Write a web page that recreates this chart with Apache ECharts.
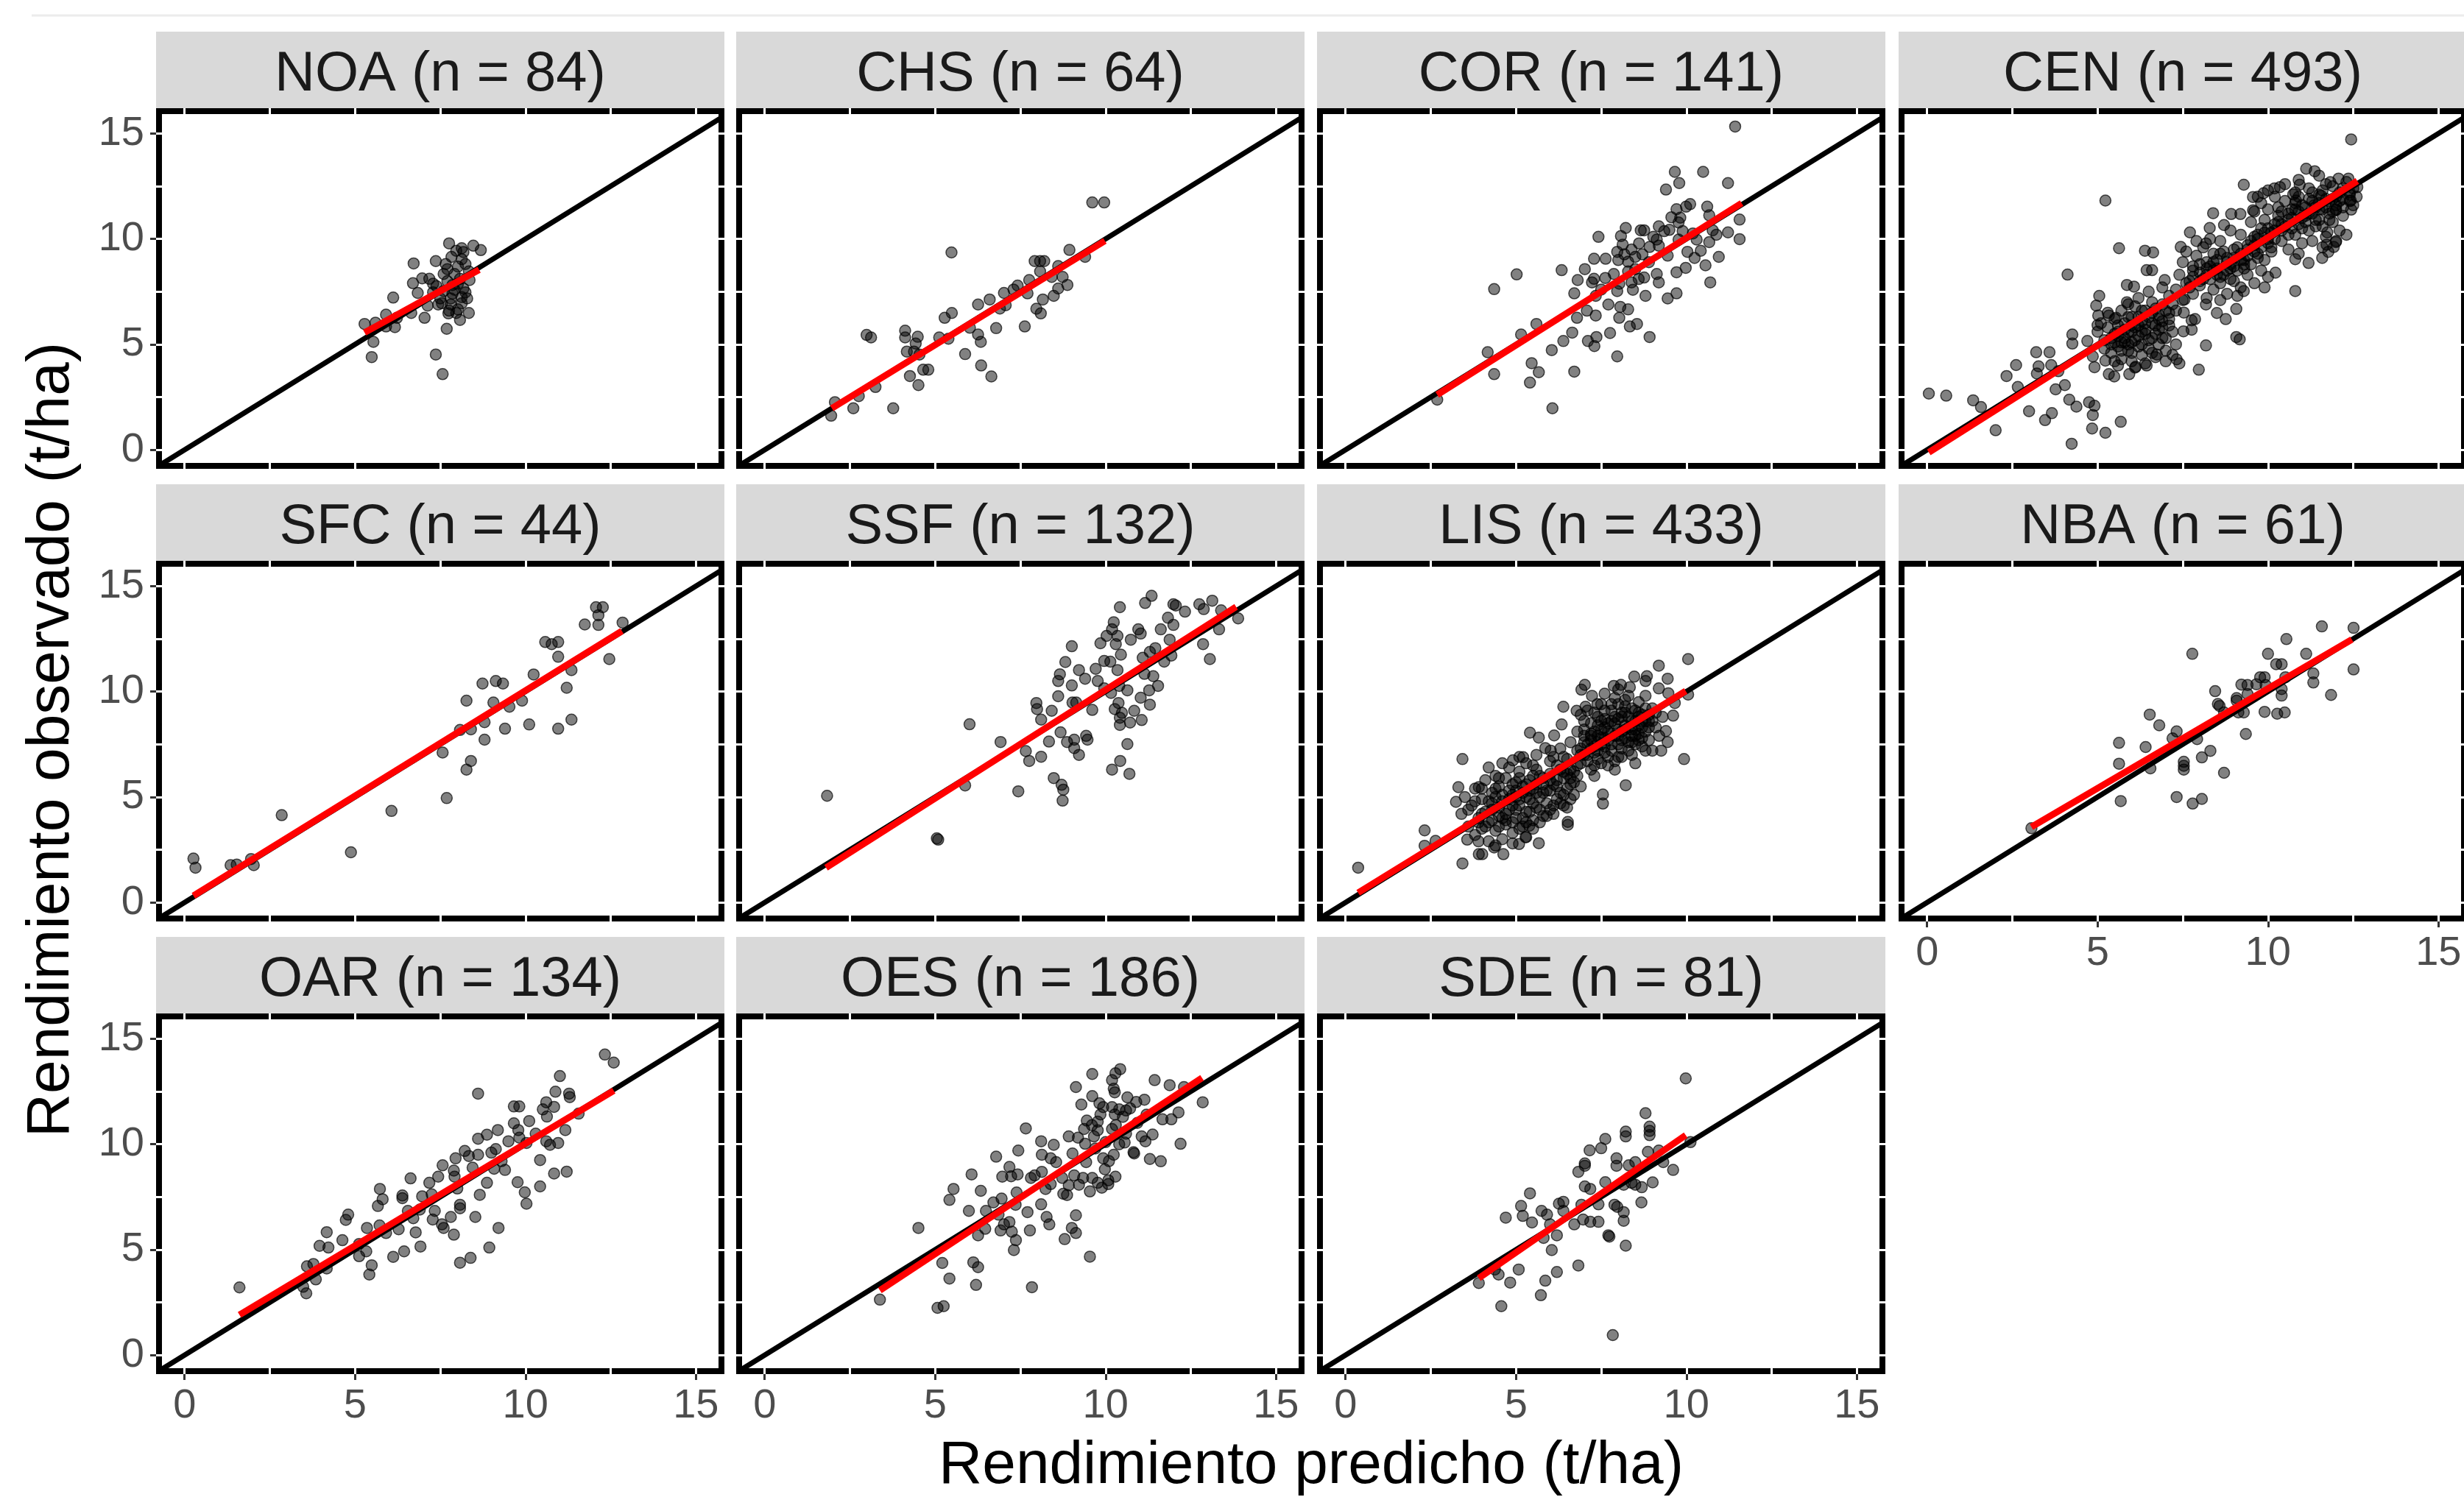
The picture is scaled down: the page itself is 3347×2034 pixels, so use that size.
<!DOCTYPE html>
<html>
<head>
<meta charset="utf-8">
<script src="https://cdn.jsdelivr.net/npm/echarts@6/dist/echarts.min.js"></script>
<style>
html, body { margin: 0; padding: 0; background: #fff; }
#chart { width: 3347px; height: 2034px; }
</style>
</head>
<body>
<div id="chart"></div>
<script>
// regiones y tamaño de muestra
const regions = ['NOA', 'CHS', 'COR', 'CEN', 'SFC', 'SSF', 'LIS', 'NBA', 'OAR', 'OES', 'SDE']
const sampleSizes = [84, 64, 141, 493, 44, 132, 433, 61, 134, 186, 81]

// recta de ajuste (inicio y fin) por region
const fitStart = [[5.28, 5.56], [1.97, 1.97], [2.69, 2.61], [0.05, -0.12], [0.26, 0.32], [1.8, 1.65], [0.37, 0.46], [3.06, 3.58], [1.61, 1.91], [3.38, 3.07], [3.91, 3.65]]
const fitEnd = [[8.64, 8.54], [9.98, 9.91], [11.62, 11.7], [12.62, 12.75], [12.83, 12.87], [13.83, 14.02], [9.98, 10.03], [12.46, 12.47], [12.59, 12.54], [12.83, 13.15], [9.98, 10.43]]

// linea 1:1
const identityLine = [[-1, -1], [17, 17]]

const axisTicks = [0, 5, 10, 15]
const gridTicks = [0, 2.5, 5, 7.5, 10, 12.5, 15]

// predicho, observado
const noaPoints = [[7.76,9.79],[8.13,9.56],[8.47,9.68],[8.69,9.47],[7.83,9.15],[8.13,9.04],[6.72,8.84],[7.37,8.95],[7.71,8.57],[8.02,8.69],[8.24,8.81],[7.6,8.34],[7.92,8.34],[8.34,8.46],[6.97,8.13],[6.7,7.9],[7.29,7.88],[7.71,8.0],[8.02,7.88],[8.36,8.05],[6.84,7.44],[7.29,7.47],[7.6,7.53],[7.92,7.59],[8.24,7.47],[6.12,7.22],[7.5,7.18],[7.81,7.18],[8.13,7.24],[8.29,7.18],[7.13,6.84],[7.44,6.89],[7.81,6.89],[8.13,6.95],[7.76,6.6],[8.02,6.66],[8.34,6.49],[7.74,6.47],[5.91,6.41],[7.04,6.26],[8.08,6.16],[6.65,6.49],[6.23,6.26],[5.28,5.97],[5.6,6.03],[6.17,5.82],[5.91,5.85],[7.69,5.74],[5.54,5.12],[5.49,4.4],[7.37,4.52],[7.57,3.59],[7.39,7.76],[7.86,7.82],[8.18,9.38],[7.97,9.44],[7.66,8.81],[8.08,8.11],[7.86,7.41],[8.18,7.65],[7.55,6.95],[7.97,6.49],[7.18,8.11]]

const chsPoints = [[9.61,11.73],[9.96,11.73],[5.48,9.36],[8.94,9.48],[9.4,9.15],[7.92,8.95],[8.08,8.95],[8.2,8.95],[8.61,8.71],[8.08,8.46],[8.42,8.2],[8.74,8.2],[7.76,8.05],[8.88,7.82],[8.61,7.65],[7.42,7.79],[7.02,7.44],[7.71,7.42],[8.48,7.3],[6.6,7.13],[6.26,6.89],[7.07,6.86],[8.16,7.13],[7.97,6.69],[8.1,6.47],[5.49,6.49],[5.28,6.26],[6.79,5.77],[7.63,5.85],[6.02,5.79],[6.26,5.47],[6.34,5.12],[5.39,5.27],[4.12,5.65],[4.12,5.33],[2.99,5.45],[3.12,5.33],[4.49,5.36],[4.43,5.04],[4.17,4.66],[4.38,4.66],[4.54,4.52],[5.88,4.54],[4.65,3.8],[4.8,3.8],[6.35,4.0],[4.26,3.5],[6.65,3.48],[4.51,3.07],[3.25,2.98],[2.76,2.55],[2.06,2.26],[2.6,1.97],[3.77,1.97],[1.95,1.62],[5.12,5.33],[7.3,7.6],[6.9,6.7]]

const corPoints = [[11.43,15.33],[9.66,13.18],[10.49,13.18],[9.79,12.65],[11.22,12.65],[9.4,12.34],[10.11,11.65],[10.61,11.53],[9.71,11.41],[9.99,11.53],[9.56,11.03],[9.82,11.01],[10.67,11.12],[11.56,10.92],[9.77,10.78],[8.22,10.52],[8.66,10.41],[8.76,10.41],[9.19,10.6],[9.35,10.37],[9.5,10.43],[10.77,10.41],[10.88,10.2],[11.22,10.31],[7.42,10.1],[8.08,10.14],[9.03,10.1],[9.89,10.37],[10.3,9.97],[10.67,9.85],[11.56,9.99],[8.13,9.73],[8.61,9.79],[8.92,9.62],[9.19,9.68],[7.97,9.39],[8.18,9.27],[8.39,9.5],[8.71,9.27],[10.03,9.39],[10.42,9.44],[10.95,9.15],[9.45,9.21],[7.29,9.06],[7.63,9.06],[8.29,8.92],[10.24,9.1],[10.56,8.75],[6.34,8.52],[7.02,8.57],[9.98,8.63],[9.71,8.42],[5.02,8.32],[9.13,8.34],[9.19,7.94],[6.81,8.05],[7.23,7.94],[7.62,8.15],[8.03,7.88],[8.39,7.94],[8.76,8.17],[10.7,7.94],[4.36,7.62],[6.71,7.42],[7.34,7.3],[7.97,7.53],[8.43,7.59],[8.8,7.3],[9.45,7.18],[9.71,7.42],[7.71,6.89],[8.06,6.78],[8.29,6.66],[7.08,6.6],[7.34,6.37],[6.79,6.26],[8.03,6.26],[5.6,5.97],[8.34,5.85],[8.55,5.97],[5.15,5.47],[6.65,5.56],[7.36,5.35],[7.76,5.54],[8.92,5.35],[6.39,5.16],[7.11,5.16],[7.3,4.92],[6.05,4.73],[4.17,4.63],[7.97,4.43],[5.46,4.11],[5.67,3.68],[6.71,3.71],[4.36,3.59],[5.41,3.19],[6.07,1.97],[2.69,2.38],[8.5,9.15],[8.29,8.46],[7.87,8.34],[8.5,8.57],[7.29,8.11],[9.13,9.97],[9.77,9.97],[10.19,10.26],[8.9,8.9],[8.0,9.0],[8.6,8.1],[7.5,7.6]]

const cenPoints = [[12.44,14.72],[11.12,13.33],[11.37,13.21],[9.29,12.57],[5.23,11.82],[10.19,12.4],[10.35,12.46],[10.93,12.57],[11.83,12.69],[12.07,12.86],[12.36,12.86],[12.62,12.46],[10.74,12.11],[9.56,11.99],[9.87,12.17],[11.56,12.05],[12.43,11.82],[11.99,11.36],[12.44,11.39],[8.39,11.22],[8.92,11.18],[9.19,11.18],[9.56,11.36],[10.82,11.82],[11.35,11.59],[8.29,10.52],[7.71,10.31],[8.71,10.66],[11.74,10.31],[11.99,9.85],[11.93,9.62],[11.72,9.73],[11.77,9.39],[11.59,9.1],[11.19,8.86],[10.8,9.04],[5.63,9.56],[6.39,9.44],[6.63,9.36],[8.18,9.79],[7.44,9.62],[6.44,8.52],[6.6,8.52],[4.12,8.31],[6.97,8.05],[5.86,7.82],[6.07,7.74],[5.05,7.3],[10.22,8.4],[9.29,7.53],[10.8,7.53],[4.96,6.84],[5.86,7.0],[7.55,7.13],[8.18,6.89],[9.07,6.68],[7.53,6.51],[8.5,6.49],[8.76,6.2],[5.02,6.37],[5.33,6.37],[5.54,6.26],[7.76,6.14],[7.86,6.2],[5.0,5.91],[7.52,5.62],[7.76,5.7],[9.07,5.35],[9.17,5.24],[4.26,5.47],[4.26,5.04],[4.7,5.16],[8.18,4.95],[3.2,4.63],[3.59,4.63],[4.86,4.43],[5.23,4.23],[2.61,4.02],[3.27,3.96],[3.64,4.02],[4.91,3.92],[5.6,4.0],[6.12,3.94],[6.44,4.0],[7.32,4.29],[6.74,4.52],[7.97,3.8],[2.33,3.5],[3.22,3.62],[3.85,3.73],[5.33,3.59],[5.49,3.48],[5.93,3.59],[2.66,2.98],[3.77,2.87],[4.04,3.07],[0.05,2.67],[0.56,2.57],[1.35,2.35],[1.58,2.03],[4.17,2.38],[4.38,2.05],[4.75,2.26],[4.91,2.09],[2.99,1.83],[3.66,1.74],[3.46,1.41],[4.86,1.65],[5.68,1.33],[2.01,0.93],[4.84,1.01],[5.23,0.81],[4.24,0.29],
[5.0,5.6],[5.1,6.0],[5.2,5.2],[5.3,5.8],[5.3,6.5],[5.4,5.0],[5.4,4.6],[5.5,5.5],[5.5,6.2],[5.6,4.9],[5.6,5.9],[5.7,6.6],[5.7,4.3],[5.8,5.3],[5.8,6.0],[5.9,4.7],[5.9,5.6],[6.0,6.3],[6.0,5.1],[6.0,4.2],[6.1,5.8],[6.1,6.8],[6.2,4.9],[6.2,5.4],[6.3,6.1],[6.3,4.5],[6.4,5.7],[6.4,6.6],[6.5,5.2],[6.5,4.8],[6.6,6.0],[6.6,7.0],[6.7,5.5],[6.7,4.4],[6.8,6.4],[6.8,5.0],[6.9,5.8],[6.9,6.9],[7.0,5.3],[7.0,4.7],[7.1,6.2],[7.1,7.3],[7.2,5.6],[7.2,4.5],[7.3,6.6],[7.3,5.0],[6.2,7.2],[5.9,6.9],[6.5,7.5],[6.9,7.7],[7.0,4.2],[7.4,4.1],[5.5,4.2],[6.1,3.9],[6.4,4.1],
[5.6,5.4],[5.8,5.7],[6.0,5.6],[6.2,5.9],[6.4,5.5],[6.1,5.2],[5.9,5.0],[6.3,5.0],[6.6,5.3],[6.8,5.7],[6.5,6.3],[6.3,6.6],[5.7,5.1],[6.9,6.1],[7.1,5.9],[6.7,6.7],
[5.2,4.8],[5.4,5.3],[5.6,5.6],[5.8,5.1],[6.0,5.9],[6.2,6.3],[6.4,6.0],[6.6,6.5],[6.8,6.2],[7.0,6.6],[7.2,6.9],[5.9,6.3],[5.5,5.1],[6.3,5.6],[6.7,5.9],[7.1,6.5],[6.0,4.6],[6.6,4.6],[5.7,4.7],[6.9,5.3],
[7.3,7.6],[7.4,8.3],[7.5,8.9],[7.5,7.1],[7.6,9.4],[7.7,8.0],[7.8,7.4],[7.8,8.7],[7.9,9.2],[8.0,7.8],[8.0,8.4],[8.1,9.6],[8.2,7.2],[8.2,8.9],[8.3,8.1],[8.4,9.3],[8.4,7.6],[8.5,8.6],[8.6,9.9],[8.6,7.9],[8.7,8.3],[8.8,9.1],[8.8,7.4],[8.9,8.8],[9.0,9.5],[9.0,8.0],[9.1,8.5],[9.2,10.2],[9.2,7.7],[9.3,9.0],[9.4,8.3],[9.4,9.7],[9.5,8.8],[9.6,7.9],[9.6,10.1],[9.7,9.3],[9.8,8.5],[9.8,10.5],[9.9,9.0],[10.0,9.8],[10.0,8.2],[10.1,10.3],[8.3,10.0],[8.9,10.4],[7.9,9.9],[8.6,7.1],[9.1,7.3],[9.9,7.7],
[8.0,8.0],[8.2,8.3],[8.4,8.5],[8.6,8.2],[8.8,8.5],[9.0,8.7],[9.2,9.0],[9.4,9.2],[9.6,9.4],[8.5,9.0],[8.7,9.4],[9.1,9.6],[9.3,8.6],[8.9,8.1],[8.3,8.7],[7.8,8.2],[9.5,9.9],[9.7,10.2],
[7.6,7.9],[7.8,8.5],[8.0,8.8],[8.2,8.6],[8.4,8.9],[8.6,9.3],[8.8,8.9],[9.0,9.1],[9.2,9.3],[9.4,9.5],[9.6,9.7],[9.8,9.6],[10.0,10.0],[8.1,8.1],[8.5,8.3],[8.9,8.6],[9.3,8.8],[9.7,9.1],[10.1,9.4],[7.7,7.7],
[9.5,10.8],[9.6,11.3],[9.7,10.0],[9.8,11.7],[9.9,10.9],[10.0,11.4],[10.1,9.6],[10.2,10.7],[10.2,12.0],[10.3,11.1],[10.4,9.9],[10.4,10.4],[10.5,11.8],[10.6,10.9],[10.6,9.5],[10.7,11.4],[10.8,10.2],[10.8,12.2],[10.9,10.7],[11.0,11.6],[11.0,9.8],[11.1,11.1],[11.2,10.4],[11.2,12.4],[11.3,11.8],[11.3,9.9],[11.4,10.9],[11.5,11.4],[11.5,12.1],[11.6,10.6],[11.7,11.9],[11.7,10.1],[11.8,11.2],[11.9,12.5],[11.9,10.8],[12.0,11.6],[12.1,12.2],[12.1,10.4],[12.2,11.1],[12.3,12.7],[12.4,11.8],[12.5,12.4],[12.6,12.0],[10.5,12.6],[10.9,12.8],[11.5,13.0],[10.0,12.3],[9.7,12.0],[12.3,10.2],[11.6,9.6],[10.9,9.3],[12.0,9.9],
[10.0,10.5],[10.3,10.8],[10.5,10.6],[10.7,11.0],[10.9,11.3],[11.1,11.5],[11.3,11.2],[11.5,11.7],[11.7,11.5],[11.9,11.9],[12.1,11.8],[10.4,11.3],[10.8,11.7],[11.2,11.9],[11.6,12.3],[12.0,12.0],[10.6,10.2],[11.0,10.5],[11.4,10.6],[11.8,10.9],[12.2,11.5],[10.2,10.0],[9.9,10.3],[12.4,12.2],
[10.2,10.4],[10.4,10.7],[10.6,11.2],[10.8,11.4],[11.0,11.0],[11.2,11.2],[11.4,11.5],[11.6,11.4],[11.8,11.8],[12.0,11.4],[12.2,11.9],[12.4,12.1],[10.7,10.5],[11.1,10.8],[11.5,10.9],[11.9,11.3],[10.3,11.5],[10.9,12.0],[11.3,12.2],[11.7,12.6],[12.2,12.4],[12.5,11.6]]

const sfcPoints = [[12.07,14.0],[12.27,14.0],[12.14,13.62],[11.74,13.18],[12.14,13.16],[12.85,13.27],[10.58,12.35],[10.77,12.25],[10.96,12.35],[10.96,11.65],[12.46,11.54],[11.35,11.02],[10.24,10.81],[8.74,10.38],[9.13,10.5],[9.34,10.38],[11.21,10.18],[8.27,9.57],[9.06,9.48],[9.53,9.28],[9.9,9.57],[11.35,8.67],[8.8,8.55],[10.11,8.44],[9.4,8.24],[10.96,8.24],[8.4,8.21],[8.08,8.18],[8.8,7.72],[7.57,7.11],[8.4,6.71],[8.27,6.3],[7.69,4.95],[6.07,4.34],[2.85,4.14],[4.88,2.38],[0.26,2.08],[0.32,1.65],[1.35,1.77],[1.53,1.8],[1.95,2.06],[2.03,1.77]]

const ssfPoints = [[11.35,14.54],[11.16,14.2],[10.42,14.0],[11.99,14.14],[12.06,14.08],[12.33,13.79],[12.75,14.14],[12.88,13.91],[13.13,14.31],[13.39,13.85],[13.89,13.47],[10.24,13.29],[11.83,13.5],[11.99,13.16],[10.19,12.95],[10.96,12.95],[11.62,12.95],[11.03,12.75],[13.33,12.95],[10.03,12.64],[10.35,12.64],[10.74,12.46],[11.88,12.46],[12.86,12.25],[9.01,12.15],[9.85,12.29],[10.3,12.25],[11.46,12.06],[10.45,11.75],[11.3,11.88],[13.06,11.54],[8.82,11.4],[9.96,11.45],[10.14,11.42],[11.09,11.6],[11.72,11.42],[11.93,11.71],[9.22,11.02],[9.71,11.08],[10.35,11.02],[11.14,10.84],[11.4,10.73],[8.66,10.82],[8.61,10.5],[9.4,10.61],[9.77,10.5],[9.01,10.29],[11.54,10.27],[11.28,10.06],[10.4,10.27],[10.64,10.06],[9.96,10.15],[10.16,9.94],[8.61,9.78],[11.03,9.71],[11.3,9.38],[7.97,9.46],[7.99,9.17],[9.03,9.48],[9.14,9.48],[9.61,9.13],[10.38,9.46],[10.27,9.17],[8.42,9.09],[10.48,8.99],[10.84,9.09],[8.11,8.67],[10.42,8.76],[10.72,8.53],[11.06,8.65],[10.42,8.42],[6.01,8.45],[8.68,8.07],[8.34,7.63],[8.87,7.61],[9.08,7.72],[9.43,7.9],[9.47,7.72],[6.92,7.61],[10.64,7.51],[9.08,7.32],[7.66,7.18],[9.22,7.0],[8.11,6.91],[7.76,6.71],[10.43,6.71],[10.19,6.3],[10.7,6.1],[8.48,5.9],[8.71,5.58],[8.76,5.35],[5.88,5.55],[7.44,5.27],[8.74,4.83],[1.83,5.06],[5.05,3.04],[5.09,2.98]]

const lisPoints = [[10.05,11.54],[9.19,11.23],[8.47,10.71],[8.84,10.73],[8.8,10.5],[9.45,10.61],[7.02,10.32],[6.92,10.09],[7.87,10.27],[8.08,10.32],[8.34,10.21],[9.19,10.15],[7.23,9.8],[9.47,9.92],[10.05,9.86],[9.66,9.46],[6.39,9.28],[7.04,9.28],[6.78,9.09],[7.39,9.4],[9.61,8.86],[6.34,8.44],[5.41,8.05],[5.67,7.82],[6.12,7.92],[9.4,8.13],[9.45,7.61],[5.86,7.32],[6.02,7.2],[9.26,7.2],[9.93,6.8],[3.43,6.8],[5.21,6.89],[4.91,6.74],[8.22,5.56],[7.55,5.12],[7.55,4.69],[3.31,5.47],[3.91,5.47],[3.24,4.77],[6.52,3.82],[6.52,3.68],[2.32,3.42],[5.67,2.81],[5.09,2.77],[4.36,2.61],[4.63,2.29],[3.91,2.29],[4.01,2.29],[3.43,1.85],[0.37,1.65],[2.64,2.92],[2.32,2.69],[5.39,3.64],[5.28,3.1],[3.57,2.98],
[3.4,4.2],[3.5,5.0],[3.6,3.6],[3.7,4.6],[3.8,5.4],[3.8,3.2],[3.9,4.0],[4.0,4.9],[4.0,3.5],[4.1,5.8],[4.1,4.3],[4.2,2.9],[4.2,3.8],[4.3,5.2],[4.3,4.7],[4.4,3.4],[4.4,6.0],[4.5,4.1],[4.5,5.5],[4.6,3.0],[4.6,4.8],[4.7,5.9],[4.7,3.7],[4.8,4.4],[4.8,6.4],[4.9,5.1],[4.9,3.3],[5.0,4.0],[5.0,5.7],[5.1,4.6],[5.1,6.2],[5.2,3.6],[5.2,5.2],[5.3,4.3],[5.3,6.6],[5.4,4.9],[5.4,5.8],[5.5,3.9],[5.5,5.4],[5.6,4.5],[5.6,6.3],[5.7,5.0],[5.8,4.1],[5.8,5.9],[5.9,5.3],[5.9,4.7],[6.0,6.1],[6.0,4.4],[6.1,5.6],[6.2,4.9],[6.2,6.5],[6.3,5.2],[6.4,4.6],[6.4,5.9],[6.5,5.4],[6.6,4.9],[6.6,6.3],[6.7,5.7],[4.4,2.7],[4.9,2.8],[5.3,3.1],[3.9,2.9],[4.6,6.6],[5.1,6.9],[5.6,7.0],[4.2,6.4],
[4.5,4.5],[4.7,4.2],[4.9,4.6],[5.1,4.9],[5.3,5.0],[5.5,4.7],[5.7,4.4],[5.2,4.0],[4.8,5.3],[5.0,5.0],[5.6,5.2],[5.8,5.6],[6.0,5.3],[6.2,5.8],[6.4,5.1],[6.6,5.6],[6.8,6.0],[6.1,4.6],[5.4,4.3],[4.6,4.0],[4.3,4.4],[4.0,4.2],[4.4,5.0],[4.9,5.6],[5.3,5.6],[5.7,6.0],[6.3,6.3],[6.5,6.1],[5.0,4.4],[5.5,6.0],
[3.9,3.8],[4.1,3.6],[4.3,3.9],[4.5,3.6],[4.7,3.9],[4.9,3.8],[5.1,3.5],[5.3,3.8],[5.5,3.5],[5.7,3.8],[5.9,4.1],[6.1,4.2],[6.3,4.7],[6.5,4.5],[6.7,5.1],[6.9,5.5],[4.2,4.8],[4.4,5.4],[4.6,5.1],[4.8,4.9],[5.0,5.3],[5.2,5.5],[5.4,5.3],[5.6,5.6],[5.8,5.2],[6.0,5.8],[6.2,5.5],[6.4,6.2],[6.6,5.9],[6.8,6.5],[5.1,5.9],[5.5,6.5],[4.5,5.9],[3.6,4.4],[3.8,4.8],[4.0,5.4],[6.0,6.7],[6.4,6.9],
[6.5,6.8],[6.6,7.6],[6.7,6.2],[6.8,7.2],[6.8,8.1],[6.9,6.6],[7.0,7.6],[7.0,8.6],[7.1,7.0],[7.2,8.0],[7.2,6.3],[7.3,7.4],[7.3,9.0],[7.4,8.4],[7.4,6.8],[7.5,7.8],[7.5,9.4],[7.6,7.1],[7.6,8.7],[7.7,8.1],[7.7,6.5],[7.8,9.1],[7.8,7.5],[7.9,8.5],[7.9,9.7],[8.0,7.9],[8.0,6.9],[8.1,8.8],[8.1,7.3],[8.2,9.3],[8.2,8.2],[8.3,7.6],[8.3,9.8],[8.4,8.6],[8.4,7.0],[8.5,9.1],[8.5,7.9],[8.6,8.4],[8.6,9.5],[8.7,7.4],[8.7,8.9],[8.8,8.1],[8.8,9.8],[8.9,7.7],[8.9,8.6],[9.0,9.2],[9.0,7.2],[9.1,8.3],[7.1,9.1],[7.6,9.9],[8.0,10.1],[6.9,8.9],[7.3,6.0],[7.9,6.3],[8.5,6.6],[9.2,7.9],[9.3,8.8],[6.3,7.3],[6.1,6.9],
[7.0,7.0],[7.2,7.3],[7.4,7.6],[7.6,7.8],[7.8,8.0],[8.0,8.2],[8.2,8.4],[8.4,8.2],[8.6,8.0],[8.2,7.8],[8.0,7.5],[7.8,7.2],[7.6,7.4],[7.4,7.2],[7.2,7.7],[7.5,8.2],[7.7,8.5],[7.9,8.8],[8.1,9.0],[8.3,8.8],[8.5,8.6],[8.7,8.3],[8.4,7.6],[8.8,8.6],[7.0,7.9],[6.9,7.3],[7.3,8.1],[8.1,7.7],[8.6,9.0],[7.5,8.6],
[6.9,7.0],[7.1,7.5],[7.3,7.1],[7.5,7.5],[7.7,7.7],[7.9,7.9],[8.1,8.1],[8.3,8.3],[8.5,8.2],[8.7,8.6],[8.9,8.9],[7.0,8.2],[7.2,8.5],[7.4,8.8],[7.6,9.1],[7.8,9.4],[8.0,9.4],[8.2,9.6],[8.4,9.2],[8.6,8.8],[8.8,9.2],[9.0,8.6],[9.1,9.0],[8.9,8.3],[8.7,7.8],[8.5,7.5],[8.3,7.2],[8.1,6.9],[7.9,6.7],[7.7,6.9],[7.5,6.6],[7.3,6.5],[7.1,6.7],[7.6,8.3],[7.8,8.6],[8.0,8.7],[8.2,9.0],[7.4,7.9],[7.2,7.9],[8.4,7.9],[8.6,7.7],[8.8,7.2]]

const nbaPoints = [[11.58,13.09],[12.51,13.02],[10.54,12.49],[7.78,11.79],[10.0,11.79],[11.12,11.79],[10.24,11.3],[10.4,11.3],[12.51,11.05],[11.33,10.86],[9.77,10.68],[9.9,10.68],[10.51,10.68],[11.33,10.43],[9.22,10.33],[9.4,10.31],[9.66,10.35],[9.93,10.31],[10.4,10.12],[10.4,9.81],[11.85,9.84],[8.45,10.02],[9.08,9.69],[9.08,9.57],[9.4,9.88],[8.53,9.41],[8.58,9.32],[9.13,9.01],[9.29,9.01],[9.9,9.04],[10.27,8.95],[10.49,9.01],[8.71,9.01],[6.53,8.91],[6.81,8.4],[7.32,8.11],[7.2,7.78],[7.92,7.75],[9.35,7.99],[5.63,7.57],[6.41,7.37],[8.31,7.19],[8.06,6.88],[5.63,6.58],[7.53,6.67],[7.53,6.48],[7.53,6.3],[6.55,6.36],[8.71,6.15],[7.32,5.0],[7.79,4.69],[8.06,4.91],[5.68,4.81],[3.06,3.52]]

const oarPoints = [[12.33,14.25],[12.59,13.87],[11.01,13.23],[8.61,12.4],[10.88,12.49],[11.28,12.4],[11.3,12.23],[9.66,11.79],[9.82,11.79],[10.61,11.99],[10.51,11.65],[10.84,11.77],[10.63,11.31],[11.56,11.45],[10.11,11.1],[9.66,10.99],[9.79,10.67],[9.19,10.67],[8.87,10.45],[8.61,10.26],[9.5,10.14],[9.82,10.31],[11.17,10.67],[10.61,10.14],[10.72,9.97],[10.96,10.06],[10.03,10.06],[9.13,9.77],[8.22,9.68],[8.34,9.44],[8.61,9.5],[7.95,9.33],[10.43,9.25],[7.57,9.0],[8.45,8.89],[9.08,8.84],[9.4,8.78],[7.9,8.75],[11.21,8.7],[10.84,8.61],[7.44,8.46],[7.92,8.46],[6.63,8.38],[7.18,8.17],[8.87,8.17],[9.77,8.2],[10.43,8.0],[5.73,7.88],[6.39,7.57],[6.39,7.44],[6.97,7.53],[7.25,7.62],[8.66,7.6],[9.98,7.72],[5.81,7.39],[5.67,7.07],[8.08,7.13],[8.08,6.96],[10.03,7.18],[6.55,6.84],[7.34,6.84],[4.8,6.66],[4.73,6.41],[6.71,6.49],[8.53,6.55],[7.81,6.55],[7.28,6.43],[7.55,6.2],[7.6,6.03],[5.35,6.03],[5.72,6.15],[6.28,5.97],[5.91,5.79],[6.78,5.82],[7.9,5.71],[9.21,6.03],[4.17,5.83],[4.63,5.45],[3.96,5.18],[4.22,5.1],[5.12,5.27],[5.33,4.92],[5.12,4.69],[6.44,4.92],[6.92,5.15],[6.12,4.66],[8.94,5.1],[8.39,4.61],[8.08,4.38],[5.49,4.26],[5.42,3.82],[3.59,4.21],[3.78,4.32],[4.17,4.11],[3.85,3.59],[3.48,3.24],[3.57,2.93],[1.61,3.21],[9.3,9.2],[8.0,7.9],[6.9,6.9],[10.3,10.5],[9.0,9.6]]

const oesPoints = [[10.43,13.56],[9.61,13.33],[10.29,13.36],[10.19,13.04],[11.44,13.04],[11.88,12.8],[9.13,12.71],[10.24,12.63],[10.27,12.46],[12.3,12.71],[9.61,12.28],[10.64,12.22],[11.14,12.11],[12.85,11.99],[9.29,11.88],[9.82,11.94],[9.93,11.76],[10.19,11.76],[10.4,11.65],[10.72,11.7],[9.85,11.41],[10.27,11.41],[10.51,11.3],[12.14,11.51],[11.67,11.18],[11.93,11.18],[9.45,11.12],[9.77,11.07],[10.93,11.01],[7.66,10.75],[9.37,10.72],[9.77,10.66],[10.19,10.72],[11.38,10.46],[8.92,10.37],[9.19,10.31],[9.66,10.37],[11.06,10.37],[11.17,10.14],[8.11,10.14],[8.48,9.97],[9.4,10.02],[10.56,10.08],[12.2,10.02],[7.44,9.7],[8.13,9.5],[9.03,9.56],[10.24,9.5],[10.82,9.62],[10.84,9.56],[6.79,9.41],[8.39,9.33],[11.3,9.3],[11.62,9.19],[9.93,9.33],[8.55,9.15],[9.43,9.15],[7.18,8.92],[9.98,8.81],[6.07,8.57],[6.97,8.46],[7.23,8.48],[7.42,8.57],[7.81,8.4],[7.92,8.52],[8.13,8.69],[9.08,8.52],[9.34,8.4],[9.61,8.4],[9.77,8.17],[10.08,8.29],[10.29,8.46],[8.39,8.11],[8.73,8.4],[8.92,8.05],[9.22,8.08],[9.89,7.94],[10.08,8.11],[5.54,7.88],[6.34,7.79],[8.24,7.88],[8.76,7.65],[8.87,7.59],[9.54,7.76],[7.39,7.71],[5.42,7.36],[6.71,7.24],[6.95,7.42],[7.36,7.13],[8.11,7.15],[5.99,6.84],[6.49,6.84],[7.71,6.78],[6.86,6.66],[9.13,6.63],[8.27,6.55],[8.35,6.2],[7.02,6.2],[7.18,6.31],[4.51,6.03],[6.47,5.99],[6.92,5.91],[7.25,5.85],[7.78,5.91],[9.01,6.03],[9.13,5.79],[6.26,5.68],[7.37,5.45],[8.8,5.5],[7.31,4.98],[9.54,4.67],[5.21,4.37],[6.12,4.4],[6.26,4.17],[5.42,3.63],[6.2,3.33],[7.84,3.22],[3.38,2.63],[5.07,2.24],[5.25,2.32],[10.0,10.1],[10.3,10.9],[10.6,11.6],[9.7,9.8],[10.9,12.0],[10.1,9.2],[9.6,10.9],[10.4,10.0],[11.2,11.4],[10.6,10.5]]

const sdePoints = [[9.98,13.12],[8.8,11.47],[8.92,10.83],[8.92,10.63],[8.92,10.43],[8.22,10.6],[8.22,10.37],[7.62,10.25],[7.5,9.81],[7.16,9.71],[10.12,10.1],[8.87,9.64],[9.19,9.7],[7.02,9.09],[7.02,8.98],[7.95,9.33],[7.95,8.98],[8.31,9.0],[8.5,9.15],[9.32,9.15],[9.61,8.78],[6.83,8.69],[7.62,8.2],[7.02,8.0],[7.18,7.88],[8.16,8.08],[8.39,8.17],[8.5,8.08],[8.69,7.96],[9.01,8.19],[5.41,7.67],[8.68,7.24],[5.15,7.07],[6.26,7.18],[6.39,7.27],[6.92,7.13],[7.42,7.15],[7.89,7.13],[7.97,7.03],[5.75,6.84],[5.91,6.66],[6.39,6.84],[8.16,6.78],[8.16,6.37],[4.7,6.52],[5.2,6.6],[5.47,6.29],[6.71,6.2],[6.97,6.43],[7.18,6.32],[7.42,6.32],[6.0,6.2],[7.71,5.68],[7.74,5.62],[5.81,5.56],[6.2,5.68],[8.22,5.19],[6.05,4.98],[4.38,4.06],[4.49,3.82],[5.08,4.06],[6.83,4.25],[6.2,3.94],[5.86,3.53],[4.83,3.44],[3.91,3.42],[5.73,2.84],[4.57,2.32],[7.84,0.95]]

const panelPoints = [noaPoints, chsPoints, corPoints, cenPoints, sfcPoints, ssfPoints, lisPoints, nbaPoints, oarPoints, oesPoints, sdePoints]

// disposicion de paneles
const colLeft = [216, 1004, 1793, 2583]
const rowTop = [151, 766, 1381]
const panelW = 764
const panelH = 482
const stripH = 104
const xRange = [-0.75, 15.75]
const yRange = [-0.76, 16.06]
const fontFamily = '"Liberation Sans", Arial, sans-serif'

const chart = echarts.init(document.getElementById('chart'))

const grids = []
const xAxes = []
const yAxes = []
const series = []
const graphics = []

// eje con borde negro y muescas blancas
const sideAxes = (gi, position, range, showLabels) => {
  const main = {
    gridIndex: gi,
    type: 'value',
    position: position,
    min: range[0],
    max: range[1],
    axisLine: { show: true, onZero: false, lineStyle: { color: '#000', width: 8, cap: 'square' } },
    axisTick: {
      show: showLabels,
      inside: false,
      length: 12,
      customValues: axisTicks,
      lineStyle: { color: '#333', width: 3 }
    },
    axisLabel: {
      show: showLabels,
      customValues: axisTicks,
      margin: 20,
      fontSize: 56,
      color: '#4d4d4d',
      fontFamily: fontFamily
    },
    splitLine: { show: false },
    z: 2
  }
  const notch = {
    gridIndex: gi,
    type: 'value',
    position: position,
    offset: -4,
    min: range[0],
    max: range[1],
    axisLine: { show: false, onZero: false },
    axisTick: {
      show: true,
      inside: false,
      length: 8,
      customValues: gridTicks,
      lineStyle: { color: '#fff', width: 3 }
    },
    axisLabel: { show: false },
    splitLine: { show: false },
    z: 3
  }
  return [main, notch]
}

regions.forEach((name, i) => {
  const row = Math.floor(i / 4)
  const col = i % 4
  const left = colLeft[col]
  const top = rowTop[row]

  grids.push({ left: left, top: top, width: panelW, height: panelH })

  const showX = i >= 7
  const showY = col === 0
  xAxes.push(...sideAxes(i, 'bottom', xRange, showX))
  xAxes.push(...sideAxes(i, 'top', xRange, false))
  yAxes.push(...sideAxes(i, 'left', yRange, showY))
  yAxes.push(...sideAxes(i, 'right', yRange, false))

  const xi = i * 4
  const yi = i * 4

  series.push({
    type: 'scatter',
    xAxisIndex: xi,
    yAxisIndex: yi,
    data: panelPoints[i],
    symbolSize: 15,
    itemStyle: { color: 'rgba(0,0,0,0.62)', borderColor: 'rgba(0,0,0,0.85)', borderWidth: 1.5 },
    silent: true,
    z: 2
  })
  series.push({
    type: 'line',
    xAxisIndex: xi,
    yAxisIndex: yi,
    data: identityLine,
    symbol: 'none',
    lineStyle: { color: '#000', width: 7 },
    silent: true,
    z: 3
  })
  series.push({
    type: 'line',
    xAxisIndex: xi,
    yAxisIndex: yi,
    data: [fitStart[i], fitEnd[i]],
    symbol: 'none',
    lineStyle: { color: '#ff0000', width: 9 },
    silent: true,
    z: 4
  })

  // franja del titulo del panel
  graphics.push({
    type: 'rect',
    shape: { x: left - 4, y: top - 4 - stripH, width: panelW + 8, height: stripH },
    style: { fill: '#d9d9d9' },
    silent: true
  })
  graphics.push({
    type: 'text',
    x: left + panelW / 2,
    y: top - 4 - stripH / 2 + 7,
    style: {
      text: name + ' (n = ' + sampleSizes[i] + ')',
      font: '76px ' + fontFamily,
      fill: '#1a1a1a',
      textAlign: 'center',
      textVerticalAlign: 'middle'
    },
    silent: true
  })
})

// titulos de ejes
graphics.push({
  type: 'text',
  x: 1781,
  y: 1992,
  style: {
    text: 'Rendimiento predicho (t/ha)',
    font: '82px ' + fontFamily,
    fill: '#000',
    textAlign: 'center',
    textVerticalAlign: 'middle'
  },
  silent: true
})
graphics.push({
  type: 'text',
  x: 70,
  y: 1005,
  rotation: Math.PI / 2,
  style: {
    text: 'Rendimiento observado (t/ha)',
    font: '82px ' + fontFamily,
    fill: '#000',
    textAlign: 'center',
    textVerticalAlign: 'middle'
  },
  silent: true
})
graphics.push({
  type: 'line',
  shape: { x1: 43, y1: 21, x2: 3347, y2: 21 },
  style: { stroke: '#ececec', lineWidth: 3 },
  silent: true
})

const option = {
  animation: false,
  backgroundColor: '#fff',
  grid: grids,
  xAxis: xAxes,
  yAxis: yAxes,
  series: series,
  graphic: graphics
}

chart.setOption(option)
</script>
</body>
</html>
